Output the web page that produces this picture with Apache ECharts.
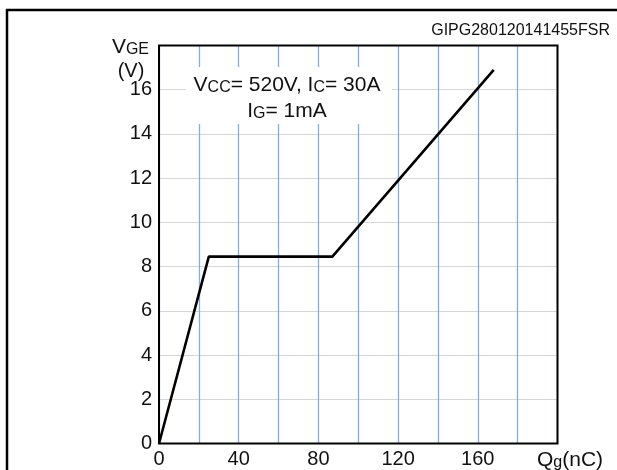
<!DOCTYPE html>
<html>
<head>
<meta charset="utf-8">
<script src="https://cdn.jsdelivr.net/npm/echarts@6/dist/echarts.min.js"></script>
<style>
html,body{margin:0;padding:0;background:#fff;}
#c{width:617px;height:470px;}
</style>
</head>
<body>
<div id="c"></div>
<script>
// Data
var qg = [0, 25, 87, 168];          // gate charge, nC
var vge = [0, 8.45, 8.45, 16.9];    // gate-emitter voltage, V
var xTickLabels = [0, 40, 80, 120, 160];
var yTickLabels = [0, 2, 4, 6, 8, 10, 12, 14, 16];

var FONT = '"Liberation Sans", Arial, Helvetica, sans-serif';
var chart = echarts.init(document.getElementById('c'), null, {renderer: 'canvas'});

var lineData = qg.map(function (q, i) { return [q, vge[i]]; });

chart.setOption({
  animation: false,
  backgroundColor: '#fff',
  grid: {
    left: 159, top: 45.5, right: 59.5, bottom: 26.5,
    show: true, borderColor: '#000', borderWidth: 2, backgroundColor: 'transparent',
    z: 3
  },
  xAxis: {
    type: 'value', min: 0, max: 200, interval: 20,
    axisLine: {show: false},
    axisTick: {show: false},
    axisLabel: {
      fontFamily: FONT, fontSize: 20, color: '#111', margin: 6,
      formatter: function (v) { return xTickLabels.indexOf(v) >= 0 ? String(v) : ''; }
    },
    splitLine: {show: true, lineStyle: {color: '#86abdd', width: 1.3}}
  },
  yAxis: {
    type: 'value', min: 0, max: 18, interval: 2,
    axisLine: {show: false},
    axisTick: {show: false},
    axisLabel: {
      fontFamily: FONT, fontSize: 20, color: '#111', margin: 7,
      formatter: function (v) { return yTickLabels.indexOf(v) >= 0 ? String(v) : ''; }
    },
    splitLine: {show: true, lineStyle: {color: '#d6d6d6', width: 1}}
  },
  series: [{
    type: 'line',
    data: lineData,
    showSymbol: false,
    symbol: 'none',
    lineStyle: {color: '#000', width: 2.6},
    z: 5
  }],
  graphic: [
    // outer frame
    {type: 'rect', shape: {x: 7, y: 10, width: 800, height: 700},
     style: {fill: 'none', stroke: '#000', lineWidth: 2.5}, z: 1, silent: true},
    // annotation background
    {type: 'rect', shape: {x: 186, y: 67, width: 206, height: 57},
     style: {fill: '#fff'}, z: 10, silent: true},
    {type: 'text', x: 287, y: 84, z: 11,
     style: {
       text: '{a|V}{b|CC}{a|= 520V, I}{b|C}{a|= 30A}',
       align: 'center', verticalAlign: 'middle',
       rich: {
         a: {fontFamily: FONT, fontSize: 21, fill: '#111', verticalAlign: 'bottom', lineHeight: 23},
         b: {fontFamily: FONT, fontSize: 16, fill: '#111', verticalAlign: 'bottom', lineHeight: 23}
       }
     }},
    {type: 'text', x: 287, y: 110, z: 11,
     style: {
       text: '{a|I}{b|G}{a|= 1mA}',
       align: 'center', verticalAlign: 'middle',
       rich: {
         a: {fontFamily: FONT, fontSize: 21, fill: '#111', verticalAlign: 'bottom', lineHeight: 23},
         b: {fontFamily: FONT, fontSize: 16, fill: '#111', verticalAlign: 'bottom', lineHeight: 23}
       }
     }},
    // y axis name
    {type: 'text', x: 149, y: 46, z: 11,
     style: {
       text: '{a|V}{b|GE}',
       align: 'right', verticalAlign: 'middle',
       rich: {
         a: {fontFamily: FONT, fontSize: 21, fill: '#111', verticalAlign: 'bottom', lineHeight: 23},
         b: {fontFamily: FONT, fontSize: 16, fill: '#111', verticalAlign: 'bottom', lineHeight: 23}
       }
     }},
    {type: 'text', x: 131, y: 71, z: 11,
     style: {text: '(V)', fontFamily: FONT, fontSize: 20, fill: '#111', align: 'center', verticalAlign: 'middle'}},
    // x axis name
    {type: 'text', x: 537, y: 459, z: 11,
     style: {
       text: '{a|Q}{b|g}{a|(nC)}',
       align: 'left', verticalAlign: 'middle',
       rich: {
         a: {fontFamily: FONT, fontSize: 21, fill: '#111', verticalAlign: 'bottom', lineHeight: 23},
         b: {fontFamily: FONT, fontSize: 16, fill: '#111', verticalAlign: 'bottom', lineHeight: 23}
       }
     }},
    // figure code
    {type: 'text', x: 610, y: 31, z: 11,
     style: {text: 'GIPG280120141455FSR', fontFamily: FONT, fontSize: 16, fill: '#111', align: 'right', verticalAlign: 'middle'}}
  ]
});
</script>
</body>
</html>
